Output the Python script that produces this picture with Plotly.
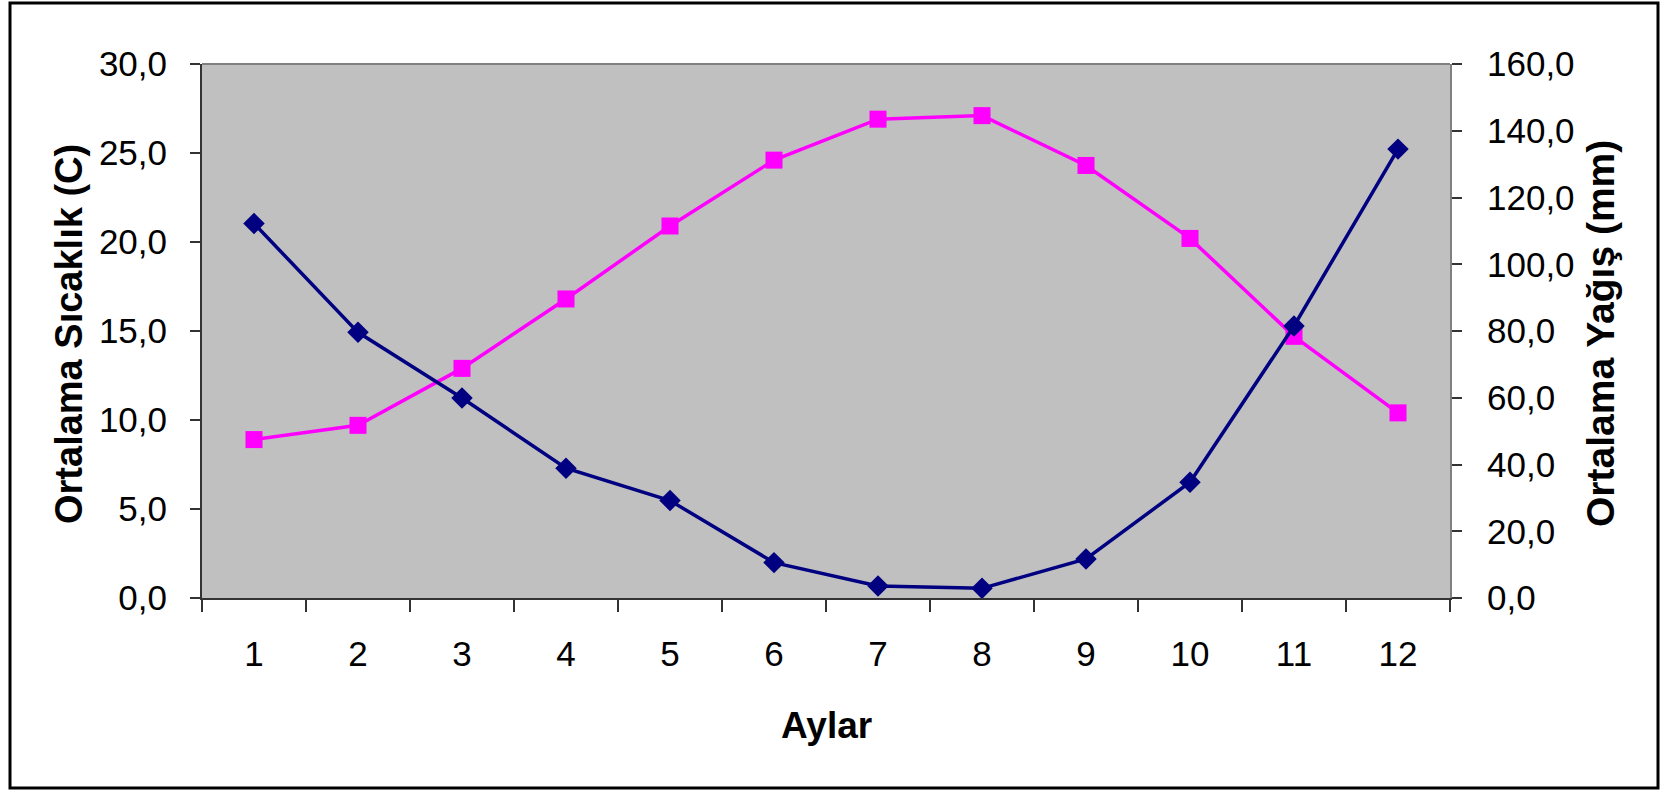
import plotly.graph_objects as go

months = [str(i) for i in range(1, 13)]
temperature_c = [8.9, 9.7, 12.9, 16.8, 20.9, 24.6, 26.9, 27.1, 24.3, 20.2, 14.7, 10.4]
precip_mm = [112.2, 79.6, 59.9, 38.9, 29.2, 10.6, 3.6, 2.9, 11.7, 34.7, 81.5, 134.5]
left_ticks = [0, 5, 10, 15, 20, 25, 30]
right_ticks = [0, 20, 40, 60, 80, 100, 120, 140, 160]

W, H = 1662, 790
L, R, T, B = 202, 212, 64, 192
pw, ph = W - L - R, H - T - B

FONT = "Liberation Sans, Arial, sans-serif"

fig = go.Figure()
fig.add_trace(go.Scatter(
    x=months, y=temperature_c, mode="lines+markers", name="Sıcaklık",
    line=dict(color="#FF00FF", width=3.5),
    marker=dict(symbol="square", size=17, color="#FF00FF"),
    yaxis="y",
))
fig.add_trace(go.Scatter(
    x=months, y=precip_mm, mode="lines+markers", name="Yağış",
    line=dict(color="#000080", width=3.5),
    marker=dict(symbol="diamond", size=16.5, color="#000080"),
    yaxis="y2",
))

def px_x(x):
    return (x - L) / pw

def px_y(y):
    return (H - B - y) / ph

fig.update_layout(
    width=W, height=H,
    margin=dict(l=L, r=R, t=T, b=B, pad=0),
    paper_bgcolor="white",
    plot_bgcolor="#C0C0C0",
    showlegend=False,
    separators=",.",
    font=dict(family=FONT, size=35, color="black"),
    xaxis=dict(
        type="category", tickson="boundaries", ticks="outside", ticklen=12,
        tickcolor="#333", tickwidth=1.5, showgrid=False, zeroline=False,
        showline=True, linecolor="#333", linewidth=2,
        ticklabelstandoff=24, tickfont=dict(size=35),
        range=[-0.5, 11.5],
    ),
    yaxis=dict(
        range=[0, 30], tickvals=left_ticks, tickformat=".1f",
        ticks="outside", ticklen=10, tickcolor="#333", tickwidth=1.5,
        showgrid=False, zeroline=False, showline=True, linecolor="#333", linewidth=2,
        ticklabelstandoff=16, tickfont=dict(size=35),
    ),
    yaxis2=dict(
        range=[0, 160], tickvals=right_ticks, tickformat=".1f",
        overlaying="y", side="right",
        ticks="outside", ticklen=10, tickcolor="#333", tickwidth=1.5,
        showgrid=False, zeroline=False, showline=True, linecolor="#808080", linewidth=2,
        ticklabelstandoff=18, tickfont=dict(size=35),
    ),
    shapes=[
        dict(type="line", xref="paper", yref="paper", x0=0, x1=1, y0=1, y1=1,
             line=dict(color="#808080", width=2)),
        dict(type="rect", xref="paper", yref="paper",
             x0=px_x(10), x1=px_x(1658), y0=px_y(3), y1=px_y(788),
             line=dict(color="black", width=3)),
    ],
    annotations=[
        dict(text="<b>Aylar</b>", xref="paper", yref="paper",
             x=0.5, y=px_y(725), showarrow=False, font=dict(size=37),
             xanchor="center", yanchor="middle"),
        dict(text="<b>Ortalama Sıcaklık (C)</b>", xref="paper", yref="paper",
             x=px_x(69), y=px_y(334), showarrow=False, textangle=-90,
             font=dict(size=38), xanchor="center", yanchor="middle"),
        dict(text="<b>Ortalama Yağış (mm)</b>", xref="paper", yref="paper",
             x=px_x(1600), y=px_y(334), showarrow=False, textangle=-90,
             font=dict(size=39), xanchor="center", yanchor="middle"),
    ],
)

fig.write_html(
    "out.html",
    config={"displayModeBar": False},
    post_script="document.body.style.margin='0';document.body.style.overflow='hidden';",
)
